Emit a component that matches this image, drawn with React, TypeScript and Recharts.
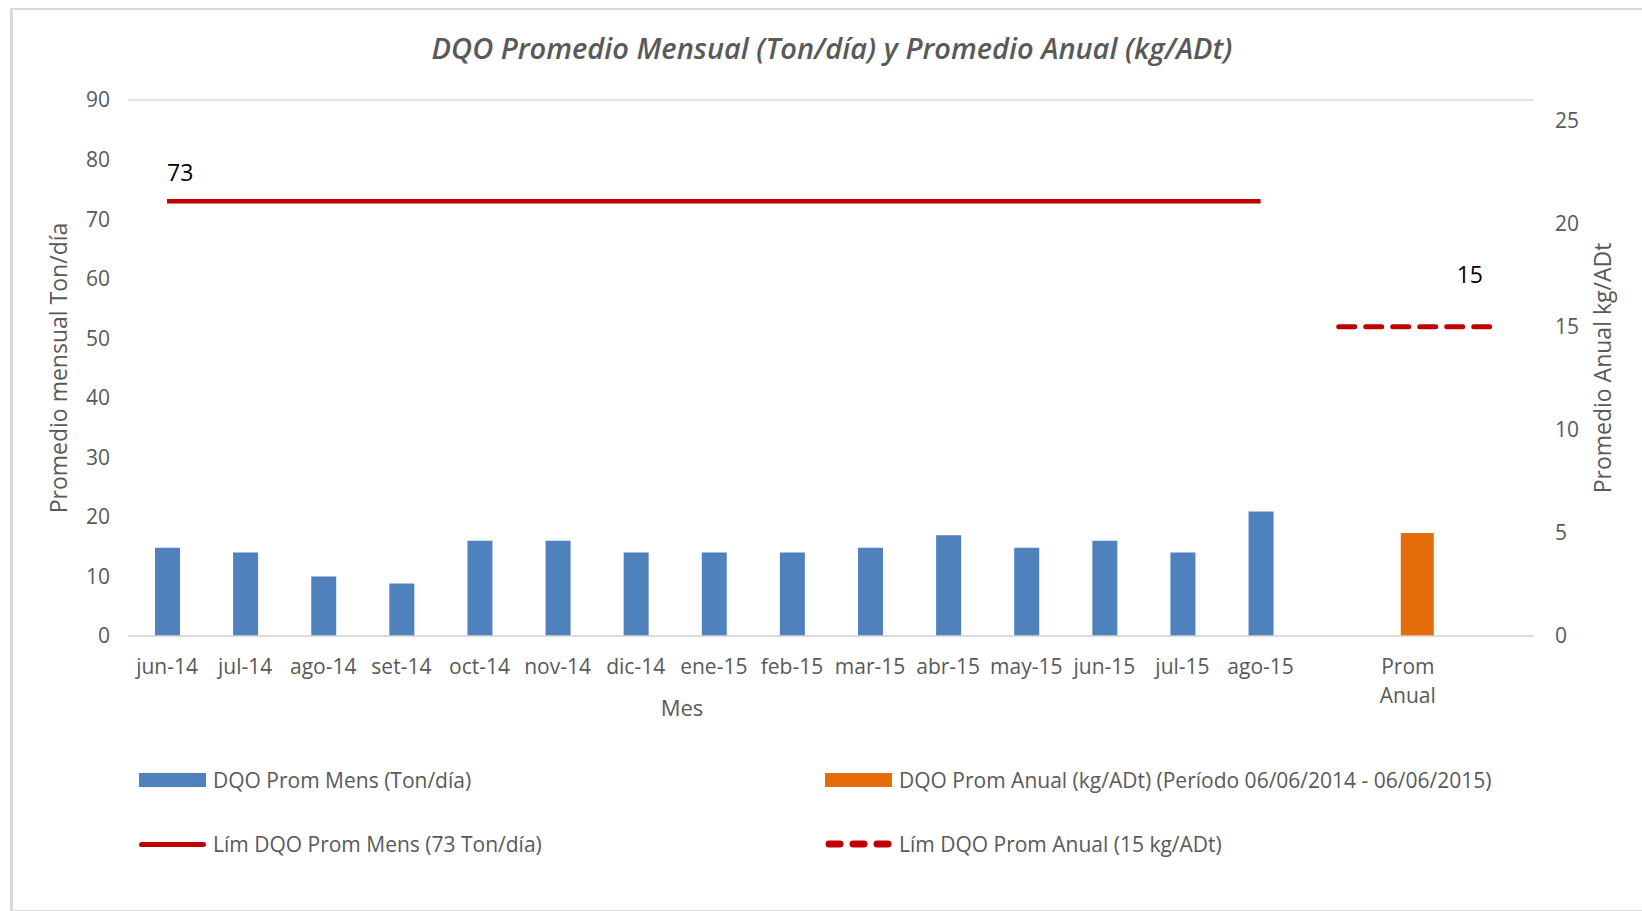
import React from 'react'
import { ComposedChart, Bar, Line, XAxis, YAxis, CartesianGrid, Label } from 'recharts'

const months = [
  'jun-14', 'jul-14', 'ago-14', 'set-14', 'oct-14', 'nov-14', 'dic-14', 'ene-15',
  'feb-15', 'mar-15', 'abr-15', 'may-15', 'jun-15', 'jul-15', 'ago-15',
]
const monthlyDqo = [14.8, 14.0, 10.0, 8.8, 16.0, 16.0, 14.0, 14.0, 14.0, 14.8, 16.9, 14.8, 16.0, 14.0, 20.9]
// categories after the months: a gap, the annual average, a gap
const tailCategories = [' ', 'Prom Anual', '  ']
const annualCategory = 'Prom Anual'
const annualDqo = 5.0
const limitMonthly = 73
const limitAnnual = 15
const leftTicks = [0, 10, 20, 30, 40, 50, 60, 70, 80, 90]
const rightTicks = [0, 5, 10, 15, 20, 25]

const categories = [...months, ...tailCategories]
const data = categories.map((cat, i) => ({
  cat,
  mens: i < months.length ? monthlyDqo[i] : null,
  anual: cat === annualCategory ? annualDqo : null,
  limMens: i < months.length ? limitMonthly : null,
  limAnual: i >= months.length ? limitAnnual : null,
}))

const BLUE = '#4f81bd'
const ORANGE = '#e46c0a'
const RED = '#c00000'
const GREY = '#595959'
const FONT = '"Open Sans", sans-serif'

const legendItems = [
  { label: 'DQO Prom Mens (Ton/día)', kind: 'bar', color: BLUE },
  { label: 'DQO Prom Anual (kg/ADt) (Período 06/06/2014 - 06/06/2015)', kind: 'bar', color: ORANGE },
  { label: 'Lím DQO Prom Mens (73 Ton/día)', kind: 'line', color: RED },
  { label: 'Lím DQO Prom Anual (15 kg/ADt)', kind: 'dash', color: RED },
]

function CategoryTick(props: any) {
  const { x, y, payload } = props
  const lines = String(payload.value).trim() ? String(payload.value).split(' ') : []
  const shift = lines.length > 1 ? -9 : 0
  return (
    <text x={x + shift} y={y + 30} textAnchor="middle" fill={GREY} fontSize={21} fontFamily={FONT}>
      {lines.map((l: string, i: number) => (
        <tspan key={i} x={x + shift} dy={i === 0 ? 0 : 29}>{l}</tspan>
      ))}
    </text>
  )
}

function limMensLabel(props: any) {
  const { x, y, index, value } = props
  if (index !== 0) return null
  return (
    <text x={x} y={y - 20} fill="#000" fontSize={23} fontFamily={FONT}>{value}</text>
  )
}

function limAnualLabel(props: any) {
  const { x, y, index, value } = props
  if (index !== categories.length - 1) return null
  return (
    <text x={x - 12} y={y - 44} textAnchor="end" fill="#000" fontSize={23} fontFamily={FONT}>{value}</text>
  )
}

function LegendIcon({ kind, color }: { kind: string; color: string }) {
  if (kind === 'bar') return <div style={{ width: 67, height: 14, background: color }} />
  if (kind === 'line') return <div style={{ width: 67, height: 5, background: color, borderRadius: 3 }} />
  return (
    <svg width={67} height={10}>
      <line x1={4} y1={5} x2={63} y2={5} stroke={color} strokeWidth={7} strokeLinecap="round" strokeDasharray="11 13" />
    </svg>
  )
}

export default function App() {
  return (
    <div style={{ position: 'relative', width: 1642, height: 911, background: '#fff', fontFamily: FONT }}>
      <style>{'body{margin:0}'}</style>
      <div
        style={{
          position: 'absolute', left: 10, top: 8, width: 1640, height: 900,
          borderTop: '2px solid #d9d9d9', borderLeft: '3px solid #d9d9d9', borderBottom: '2px solid #d9d9d9',
        }}
      />
      <div
        style={{
          position: 'absolute', left: 0, width: 1664, top: 28, textAlign: 'center',
          fontSize: 29, fontStyle: 'italic', fontWeight: 600, color: GREY,
        }}
      >
        DQO Promedio Mensual (Ton/día) y Promedio Anual (kg/ADt)
      </div>
      <div style={{ position: 'absolute', left: 0, top: 0 }}>
        <ComposedChart width={1642} height={911} data={data} margin={{ top: 100, right: 40, bottom: 215, left: 40 }}>
          <CartesianGrid vertical={false} stroke="#d9d9d9" strokeWidth={1.5} />
          <XAxis
            dataKey="cat"
            xAxisId="main"
            height={60}
            axisLine={{ stroke: '#d9d9d9', strokeWidth: 1.5 }}
            tickLine={false}
            interval={0}
            tick={<CategoryTick />}
          >
            <Label
              content={(p: any) => (
                <text x={p.viewBox.x + 554} y={716} textAnchor="middle" fill={GREY} fontSize={22} fontFamily={FONT}>Mes</text>
              )}
            />
          </XAxis>
          <XAxis dataKey="cat" xAxisId="sec" hide />
          <YAxis
            yAxisId="left"
            width={88}
            domain={[0, 90]}
            ticks={leftTicks}
            axisLine={false}
            tickLine={false}
            tickMargin={12}
            tick={{ fill: GREY, fontSize: 21, fontFamily: FONT }}
          >
            <Label
              content={(p: any) => (
                <text
                  transform={`translate(${p.viewBox.x + 21},${p.viewBox.y + p.viewBox.height / 2}) rotate(-90)`}
                  textAnchor="middle" dominantBaseline="middle" fill={GREY} fontSize={23} fontFamily={FONT}
                >
                  Promedio mensual Ton/día
                </text>
              )}
            />
          </YAxis>
          <YAxis
            yAxisId="right"
            orientation="right"
            width={68}
            domain={[0, 26]}
            ticks={rightTicks}
            axisLine={false}
            tickLine={false}
            tickMargin={15}
            tick={{ fill: GREY, fontSize: 21, fontFamily: FONT }}
          >
            <Label
              content={(p: any) => (
                <text
                  transform={`translate(${p.viewBox.x + 71},${p.viewBox.y + p.viewBox.height / 2}) rotate(-90)`}
                  textAnchor="middle" dominantBaseline="middle" fill={GREY} fontSize={23} fontFamily={FONT}
                >
                  Promedio Anual kg/ADt
                </text>
              )}
            />
          </YAxis>
          <Bar dataKey="mens" xAxisId="main" yAxisId="left" fill={BLUE} barSize={25} isAnimationActive={false} />
          <Bar dataKey="anual" xAxisId="sec" yAxisId="right" fill={ORANGE} barSize={33} isAnimationActive={false} />
          <Line
            dataKey="limMens" xAxisId="main" yAxisId="left" stroke={RED} strokeWidth={4.5}
            dot={false} activeDot={false} label={limMensLabel} isAnimationActive={false}
          />
          <Line
            dataKey="limAnual" xAxisId="main" yAxisId="right" stroke={RED} strokeWidth={5}
            strokeDasharray="16 11" strokeLinecap="round"
            dot={false} activeDot={false} label={limAnualLabel} isAnimationActive={false}
          />
        </ComposedChart>
      </div>
      {legendItems.map((item, i) => (
        <div
          key={item.label}
          style={{
            position: 'absolute', left: i % 2 === 0 ? 139 : 825, top: i < 2 ? 780 : 844,
            transform: 'translateY(-50%)', display: 'flex', alignItems: 'center', gap: 7,
            fontSize: 21, color: GREY, whiteSpace: 'nowrap',
          }}
        >
          <LegendIcon kind={item.kind} color={item.color} />
          <span>{item.label}</span>
        </div>
      ))}
    </div>
  )
}
